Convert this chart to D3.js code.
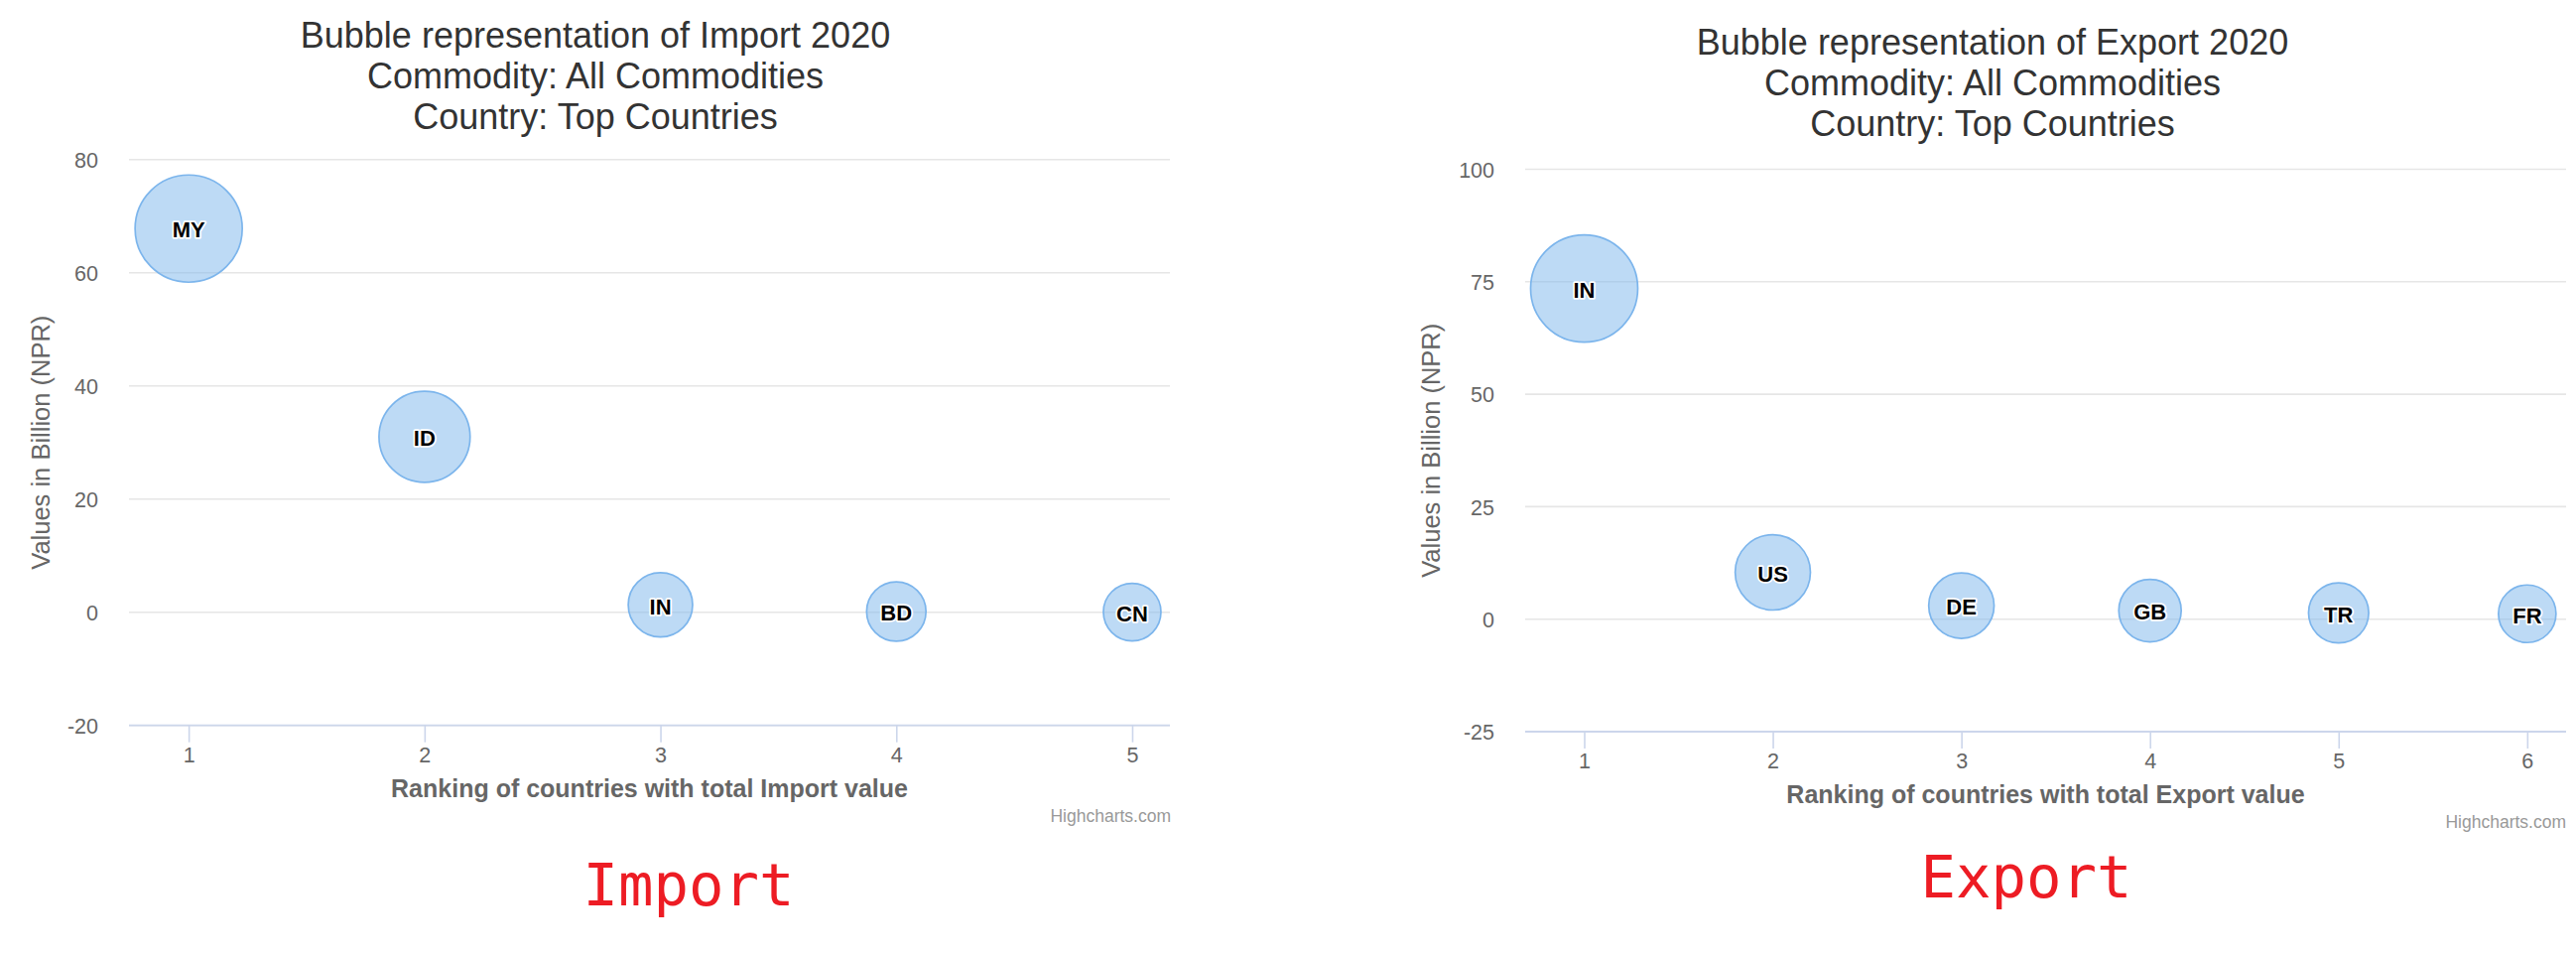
<!DOCTYPE html>
<html>
<head>
<meta charset="utf-8">
<script src="https://cdn.jsdelivr.net/npm/d3@7"></script>
<style>
  body { margin: 0; background: #fff; }
  svg { display: block; }
</style>
</head>
<body>
<svg id="chart" width="2596" height="964"></svg>
<script>
// import panel data
const importRanks = [1, 2, 3, 4, 5];
const importCountries = ["MY", "ID", "IN", "BD", "CN"];
const importValues = [67.8, 31.0, 1.3, 0.12, 0.03];
const importYTicks = [-20, 0, 20, 40, 60, 80];

// export panel data
const exportRanks = [1, 2, 3, 4, 5, 6];
const exportCountries = ["IN", "US", "DE", "GB", "TR", "FR"];
const exportValues = [73.5, 10.4, 3.0, 1.9, 1.4, 1.2];
const exportYTicks = [-25, 0, 25, 50, 75, 100];

const importTitle = ["Bubble representation of Import 2020", "Commodity: All Commodities", "Country: Top Countries"];
const exportTitle = ["Bubble representation of Export 2020", "Commodity: All Commodities", "Country: Top Countries"];

const svg = d3.select("#chart");
svg.append("rect").attr("width", 2596).attr("height", 964).attr("fill", "#fff");

const FONT = "'Liberation Sans', Arial, Helvetica, sans-serif";

function drawChart(opt) {
  const g = svg.append("g");

  const x = d3.scaleLinear()
    .domain([1 - opt.padL, opt.ranks.length + opt.padR])
    .range([opt.left, opt.right]);
  const y = d3.scaleLinear()
    .domain(d3.extent(opt.yTicks))
    .range([opt.bottom, opt.top]);

  // bubble size like highcharts: sqrt of position between min and max z
  const zMin = d3.min(opt.values), zMax = d3.max(opt.values);
  const rPos = d3.scaleLinear().domain([0, 1]).range([29, 54]);
  const radius = z => rPos(Math.sqrt((z - zMin) / (zMax - zMin)));

  // title
  g.append("text")
    .attr("x", opt.titleX)
    .attr("y", opt.titleY)
    .attr("text-anchor", "middle")
    .style("font-family", FONT)
    .style("font-size", "36px")
    .style("fill", "#333333")
    .selectAll("tspan")
    .data(opt.title)
    .enter()
    .append("tspan")
    .attr("x", opt.titleX)
    .attr("dy", (d, i) => i == 0 ? 0 : 41)
    .text(d => d);

  // grid
  g.append("g")
    .selectAll("line")
    .data(opt.yTicks)
    .enter()
    .append("line")
    .attr("x1", opt.left).attr("x2", opt.right)
    .attr("y1", d => y(d)).attr("y2", d => y(d))
    .style("stroke", "#e6e6e6")
    .style("stroke-width", 1.6);

  // y axis labels (plain hyphen for negatives, like the original)
  const yAxis = g.append("g")
    .attr("transform", `translate(${opt.left},0)`)
    .call(d3.axisLeft(y).tickValues(opt.yTicks).tickFormat(d => String(d)).tickSize(0).tickPadding(opt.left - opt.yLabelRight));
  yAxis.select(".domain").remove();
  yAxis.selectAll("text")
    .style("font-family", FONT)
    .style("font-size", "21.5px")
    .style("fill", "#666666")
    .attr("dy", "0.36em");

  // x axis
  const xAxis = g.append("g")
    .attr("transform", `translate(0,${opt.bottom})`)
    .call(d3.axisBottom(x).tickValues(opt.ranks).tickFormat(d => String(d)).tickSize(17).tickSizeOuter(0).tickPadding(5));
  xAxis.select(".domain")
    .attr("d", `M${opt.left},0H${opt.right}`)
    .style("stroke", "#ccd6eb")
    .style("stroke-width", 1.8);
  xAxis.selectAll(".tick line")
    .style("stroke", "#ccd6eb")
    .style("stroke-width", 1.6);
  xAxis.selectAll("text")
    .style("font-family", FONT)
    .style("font-size", "21.5px")
    .style("fill", "#666666");

  // axis titles
  g.append("text")
    .attr("transform", `translate(${opt.yTitleX},${(opt.top + opt.bottom) / 2}) rotate(-90)`)
    .attr("text-anchor", "middle")
    .attr("dy", "0.35em")
    .style("font-family", FONT)
    .style("font-size", "25.5px")
    .style("fill", "#666666")
    .text("Values in Billion (NPR)");

  g.append("text")
    .attr("x", (opt.left + opt.right) / 2)
    .attr("y", opt.bottom + 72)
    .attr("text-anchor", "middle")
    .style("font-family", FONT)
    .style("font-size", "25px")
    .style("font-weight", "bold")
    .style("fill", "#666666")
    .text(opt.xTitle);

  // credits
  g.append("text")
    .attr("x", opt.creditX)
    .attr("y", opt.bottom + 97)
    .attr("text-anchor", "end")
    .style("font-family", FONT)
    .style("font-size", "17.5px")
    .style("fill", "#999999")
    .text("Highcharts.com");

  // bubbles
  const pts = opt.ranks.map((r, i) => ({rank: r, name: opt.countries[i], value: opt.values[i]}));
  const bubbles = g.append("g")
    .selectAll("g")
    .data(pts)
    .enter()
    .append("g")
    .attr("transform", d => `translate(${x(d.rank)},${y(d.value)})`);

  bubbles.append("circle")
    .attr("r", d => radius(d.value))
    .style("fill", "rgba(124,181,236,0.5)")
    .style("stroke", "#7cb5ec")
    .style("stroke-width", 1.7);

  bubbles.append("text")
    .text(d => d.name)
    .attr("text-anchor", "middle")
    .attr("dy", "0.42em")
    .style("font-family", FONT)
    .style("font-size", "22px")
    .style("font-weight", "bold")
    .style("fill", "#000")
    .style("stroke", "#fff")
    .style("stroke-width", 3.5)
    .style("stroke-linejoin", "round")
    .style("paint-order", "stroke");

  // big red caption underneath
  g.append("text")
    .attr("x", opt.captionX)
    .attr("y", opt.captionY)
    .attr("text-anchor", "middle")
    .style("font-family", "'DejaVu Sans Mono', 'Liberation Mono', monospace")
    .style("font-size", "59px")
    .style("fill", "#ed1c24")
    .text(opt.caption);
}

drawChart({
  ranks: importRanks, countries: importCountries, values: importValues, yTicks: importYTicks,
  title: importTitle, xTitle: "Ranking of countries with total Import value", caption: "Import",
  left: 130, right: 1179, top: 160.7, bottom: 730.7, padL: 0.253, padR: 0.16,
  titleX: 600, titleY: 48, yLabelRight: 99, yTitleX: 41, creditX: 1180,
  captionX: 694, captionY: 912
});

drawChart({
  ranks: exportRanks, countries: exportCountries, values: exportValues, yTicks: exportYTicks,
  title: exportTitle, xTitle: "Ranking of countries with total Export value", caption: "Export",
  left: 1537, right: 2586, top: 170.5, bottom: 737, padL: 0.313, padR: 0.206,
  titleX: 2008, titleY: 55, yLabelRight: 1506, yTitleX: 1442, creditX: 2586,
  captionX: 2042, captionY: 904
});
</script>
</body>
</html>
